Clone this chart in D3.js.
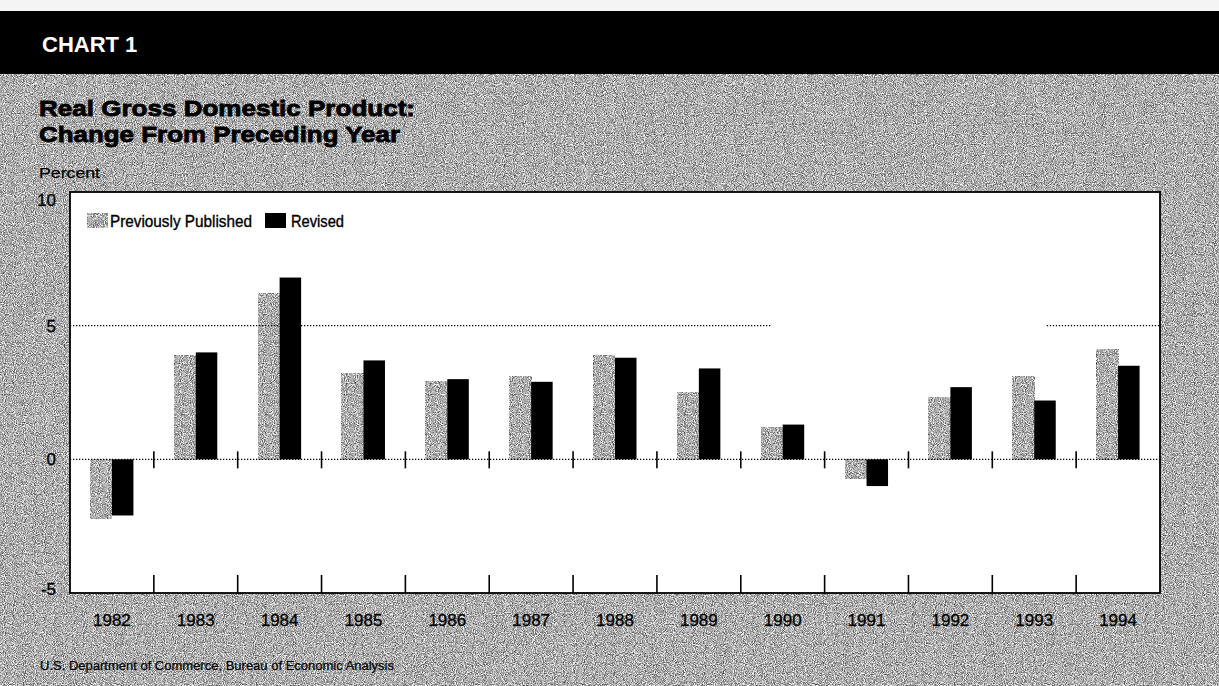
<!DOCTYPE html>
<html>
<head>
<meta charset="utf-8">
<script src="https://cdn.jsdelivr.net/npm/d3@7"></script>
<style>
  html, body { margin: 0; padding: 0; background: #fff; }
  svg { display: block; font-family: "Liberation Sans", Arial, Helvetica, sans-serif; }
</style>
</head>
<body>
<svg class="gdpChart"></svg>
<script>
// Chart 1 - real GDP, change from preceding year, previously published vs revised

const years = ['1982', '1983', '1984', '1985', '1986', '1987', '1988', '1989', '1990', '1991', '1992', '1993', '1994'];
const previouslyPublished = [-2.2, 3.9, 6.2, 3.2, 2.9, 3.1, 3.9, 2.5, 1.2, -0.7, 2.3, 3.1, 4.1];
const revised = [-2.1, 4.0, 6.8, 3.7, 3.0, 2.9, 3.8, 3.4, 1.3, -1.0, 2.7, 2.2, 3.5];
const seriesNames = ['Previously Published', 'Revised'];
const yTickValues = [10, 5, 0, -5];
const gridValues = [5, 0];
const titleLines = ['Real Gross Domestic Product:', 'Change From Preceding Year'];

const width = 1219, height = 686;
const plot = { left: 70, right: 1160, top: 192, bottom: 593 };

const svg = d3.select('svg.gdpChart')
    .attr('width', width)
    .attr('height', height)
    .attr('viewBox', [0, 0, width, height]);

// scales
const y = d3.scaleLinear().domain([-5, 10]).range([plot.bottom, plot.top]);
const xStep = d3.scaleBand().domain(years).range([plot.left, plot.right]).padding(0);
const x0 = d3.scaleBand().domain(years).range([plot.left, plot.right])
    .paddingInner(0.487).paddingOuter(0.2435);
const x1 = d3.scaleBand().domain(seriesNames).range([0, x0.bandwidth()]);

const rows = years.map((yr, i) => ({ year: yr, values: [previouslyPublished[i], revised[i]] }));

function addDefs(svgElement) {
    const defs = svgElement.append('defs');
    // halftone-ish grain used for the page and the light bars
    const f = defs.append('filter')
        .attr('id', 'grain')
        .attr('x', 0).attr('y', 0).attr('width', 1).attr('height', 1)
        .attr('color-interpolation-filters', 'sRGB');
    f.append('feTurbulence')
        .attr('type', 'fractalNoise')
        .attr('baseFrequency', 1.1)
        .attr('numOctaves', 1)
        .attr('seed', 4);
    f.append('feColorMatrix')
        .attr('type', 'matrix')
        .attr('values', '1.5 0 0 0 -0.07  1.5 0 0 0 -0.07  1.5 0 0 0 -0.07  0 0 0 0 1');
    return svgElement;
}

function drawBackground(svgElement) {
    svgElement.append('rect')
        .attr('x', 0).attr('y', 0).attr('width', width).attr('height', height)
        .attr('fill', '#b0b0b0')
        .attr('filter', 'url(#grain)');
    svgElement.append('rect')
        .attr('x', 0).attr('y', 0).attr('width', width).attr('height', 11)
        .attr('fill', '#f4f4f4');
    svgElement.append('rect')
        .attr('x', 0).attr('y', 11).attr('width', width).attr('height', 63)
        .attr('fill', '#000');
    svgElement.append('text')
        .attr('x', 42).attr('y', 52)
        .attr('fill', '#fff')
        .attr('font-size', 22)
        .attr('font-weight', 'bold')
        .text('CHART 1');
    return svgElement;
}

function drawTitles(svgElement) {
    // two heavy condensed title lines
    svgElement.append('g')
        .attr('font-size', 22.5).attr('font-weight', 'bold')
        .attr('stroke', '#000').attr('stroke-width', 0.8)
        .selectAll('text')
        .data(titleLines)
        .join('text')
        .attr('x', 39)
        .attr('y', (d, i) => 116 + i * 26)
        .attr('textLength', (d, i) => i === 0 ? 376 : 361)
        .attr('lengthAdjust', 'spacingAndGlyphs')
        .text(d => d);
    svgElement.append('text')
        .attr('x', 39).attr('y', 178)
        .attr('font-size', 15.5)
        .attr('stroke', '#000').attr('stroke-width', 0.25)
        .attr('textLength', 61).attr('lengthAdjust', 'spacingAndGlyphs')
        .text('Percent');
    svgElement.append('text')
        .attr('x', 40).attr('y', 670)
        .attr('font-size', 12.5)
        .attr('stroke', '#000').attr('stroke-width', 0.2)
        .attr('textLength', 354).attr('lengthAdjust', 'spacingAndGlyphs')
        .text('U.S. Department of Commerce, Bureau of Economic Analysis');
    return svgElement;
}

function drawPlotBox(svgElement) {
    svgElement.append('rect')
        .attr('x', plot.left).attr('y', plot.top)
        .attr('width', plot.right - plot.left).attr('height', plot.bottom - plot.top)
        .attr('fill', '#fff');
    return svgElement;
}

function drawBars(svgElement) {
    const g = svgElement.append('g')
        .selectAll('g')
        .data(rows)
        .join('g')
        .attr('transform', d => `translate(${x0(d.year)},0)`);
    g.selectAll('rect')
        .data(d => d.values.map((v, i) => ({ key: seriesNames[i], value: v })))
        .join('rect')
        .attr('x', d => x1(d.key))
        .attr('width', x1.bandwidth())
        .attr('y', d => y(Math.max(0, d.value)))
        .attr('height', d => Math.abs(y(d.value) - y(0)))
        .attr('fill', d => d.key === 'Revised' ? '#000' : '#b4b4b4')
        .attr('filter', d => d.key === 'Revised' ? null : 'url(#grain)');
    return svgElement;
}

function drawGrid(svgElement) {
    // the 5 percent rule has a gap in the original between 1990 and 1993
    const gapStart = x0('1990') + x1('Revised') * 0.5;
    const gapEnd = xStep('1993') + xStep.step() * 0.65;
    gridValues.forEach(v => {
        const segs = v === 5 ? [[plot.left, gapStart], [gapEnd, plot.right]] : [[plot.left, plot.right]];
        segs.forEach(s => {
            svgElement.append('line')
                .attr('x1', s[0]).attr('x2', s[1])
                .attr('y1', y(v)).attr('y2', y(v))
                .attr('stroke', '#000')
                .attr('stroke-width', 1.2)
                .attr('stroke-dasharray', '1.3,1.7');
        });
    });
    return svgElement;
}

function drawAxes(svgElement) {
    const inner = years.slice(1);
    // ticks crossing the zero line
    svgElement.append('g')
        .selectAll('line')
        .data(inner)
        .join('line')
        .attr('x1', d => xStep(d)).attr('x2', d => xStep(d))
        .attr('y1', y(0) - 8).attr('y2', y(0) + 9)
        .attr('stroke', '#000').attr('stroke-width', 1.6);
    // ticks rising from the bottom
    svgElement.append('g')
        .selectAll('line')
        .data(inner)
        .join('line')
        .attr('x1', d => xStep(d)).attr('x2', d => xStep(d))
        .attr('y1', plot.bottom - 18).attr('y2', plot.bottom)
        .attr('stroke', '#000').attr('stroke-width', 1.6);
    // box outline
    svgElement.append('rect')
        .attr('x', plot.left).attr('y', plot.top)
        .attr('width', plot.right - plot.left).attr('height', plot.bottom - plot.top)
        .attr('fill', 'none')
        .attr('stroke', '#000').attr('stroke-width', 1.8);
    // y labels
    svgElement.append('g')
        .attr('stroke', '#000').attr('stroke-width', 0.3)
        .selectAll('text')
        .data(yTickValues)
        .join('text')
        .attr('x', 56)
        .attr('y', d => Math.max(206, Math.min(595, y(d) + 6)))
        .attr('text-anchor', 'end')
        .attr('font-size', 17)
        .text(d => d);
    // year labels
    svgElement.append('g')
        .attr('stroke', '#000').attr('stroke-width', 0.3)
        .selectAll('text')
        .data(years)
        .join('text')
        .attr('x', d => xStep(d) + xStep.bandwidth() / 2)
        .attr('y', 626)
        .attr('text-anchor', 'middle')
        .attr('font-size', 17)
        .text(d => d);
    return svgElement;
}

function drawLegend(svgElement) {
    const items = [
        { name: seriesNames[0], box: 87, text: 110, len: 142, fill: '#b4b4b4', grain: true },
        { name: seriesNames[1], box: 265, text: 291, len: 53, fill: '#000', grain: false }
    ];
    const g = svgElement.append('g');
    items.forEach(it => {
        g.append('rect')
            .attr('x', it.box).attr('y', 213)
            .attr('width', 21).attr('height', 15)
            .attr('fill', it.fill)
            .attr('filter', it.grain ? 'url(#grain)' : null);
        g.append('text')
            .attr('x', it.text).attr('y', 227)
            .attr('font-size', 16)
            .attr('stroke', '#000').attr('stroke-width', 0.35)
            .attr('textLength', it.len).attr('lengthAdjust', 'spacingAndGlyphs')
            .text(it.name);
    });
    return svgElement;
}

let chart = svg;
chart = addDefs(chart);
chart = drawBackground(chart);
chart = drawTitles(chart);
chart = drawPlotBox(chart);
chart = drawBars(chart);
chart = drawGrid(chart);
chart = drawAxes(chart);
chart = drawLegend(chart);
</script>
</body>
</html>
